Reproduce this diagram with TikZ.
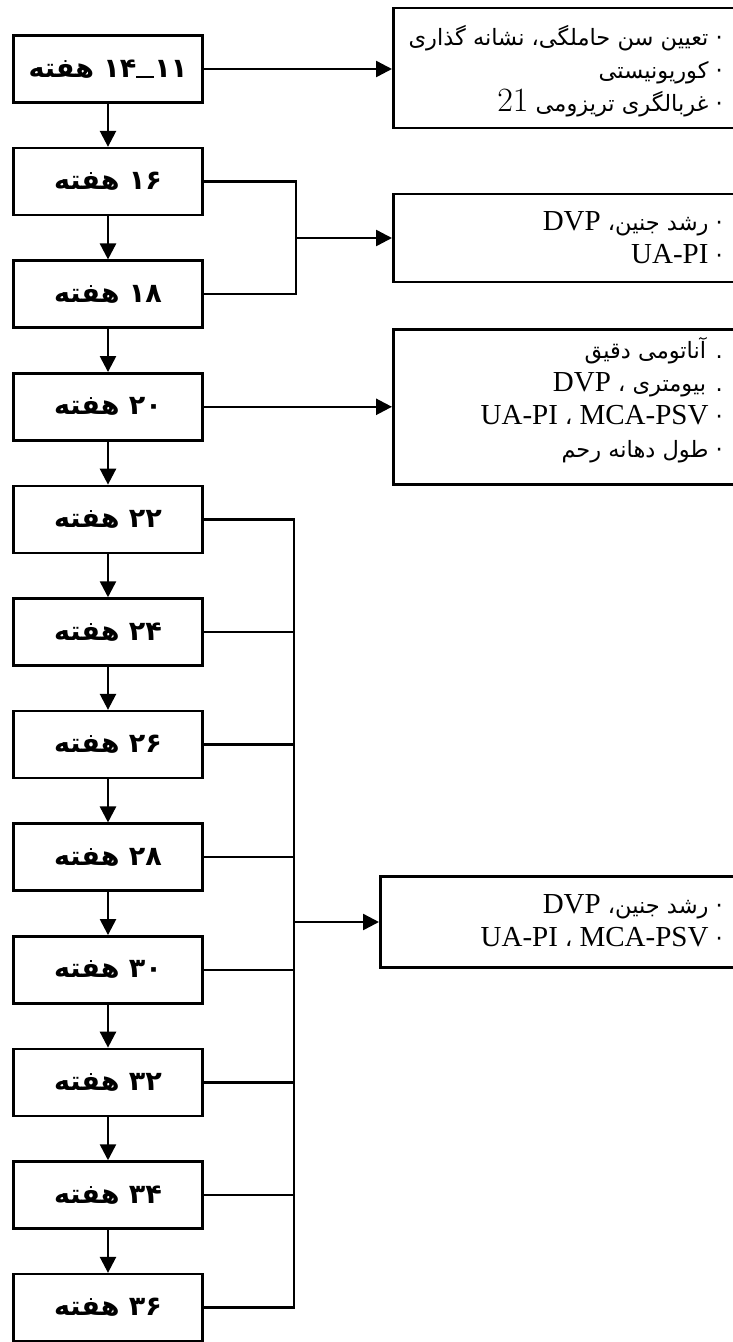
\documentclass[tikz,border=0pt]{standalone}
\usepackage{fontspec}
\usetikzlibrary{arrows.meta}
\newfontfamily\arabicfont[Script=Arabic]{DejaVu Sans}
\newfontfamily\tnr{Liberation Serif}
\TeXXeTstate=1
\tikzset{
  week/.style={draw, line width=2.5pt, minimum width=189pt, minimum height=67pt, inner sep=0pt,
    font=\arabicfont\bfseries\fontsize{27}{30}\selectfont},
  info/.style={draw, line width=2.5pt, inner sep=0pt, anchor=west, minimum width=360pt},
  txt/.style={align=right, anchor=east, inner sep=0pt, font=\arabicfont\fontsize{22.5}{33}\selectfont},
  link/.style={line width=2.5pt},
  arr/.style={line width=2.5pt, -{Triangle[length=16pt,width=16pt]}},
}
\newcommand{\lat}[1]{\beginL{\tnr\fontsize{29}{32}\selectfont #1}\endL{}}
\newcommand{\wdash}{\rule[-1pt]{18pt}{2.6pt}}
\begin{document}
\begin{tikzpicture}[x=1pt,y=-1pt]
\useasboundingbox (0,0) rectangle (733,1342);
\clip (0,0) rectangle (733,1342);
% left week boxes
\node[week] (w0)  at (108,69)    {\beginR\beginL ۱۱\endL\wdash\beginL ۱۴\endL{} هفته\endR};
\node[week] (w1)  at (108,181.6) {\beginR\beginL ۱۶\endL{} هفته\endR};
\node[week] (w2)  at (108,294.2) {\beginR\beginL ۱۸\endL{} هفته\endR};
\node[week] (w3)  at (108,406.8) {\beginR\beginL ۲۰\endL{} هفته\endR};
\node[week] (w4)  at (108,519.4) {\beginR\beginL ۲۲\endL{} هفته\endR};
\node[week] (w5)  at (108,632)   {\beginR\beginL ۲۴\endL{} هفته\endR};
\node[week] (w6)  at (108,744.6) {\beginR\beginL ۲۶\endL{} هفته\endR};
\node[week] (w7)  at (108,857.2) {\beginR\beginL ۲۸\endL{} هفته\endR};
\node[week] (w8)  at (108,969.8) {\beginR\beginL ۳۰\endL{} هفته\endR};
\node[week] (w9)  at (108,1082.4){\beginR\beginL ۳۲\endL{} هفته\endR};
\node[week] (w10) at (108,1195)  {\beginR\beginL ۳۴\endL{} هفته\endR};
\node[week] (w11) at (108,1307.6){\beginR\beginL ۳۶\endL{} هفته\endR};
% vertical arrows
\foreach \a/\b in {w0/w1,w1/w2,w2/w3,w3/w4,w4/w5,w5/w6,w6/w7,w7/w8,w8/w9,w9/w10,w10/w11}
  \draw[arr] (\a.south) -- (\b.north);
% info boxes
\node[info, minimum height=120pt] (r1) at (392,68) {};
\node[info, minimum height=88pt]  (r2) at (392,238) {};
\node[info, minimum height=155pt] (r3) at (392,407) {};
\node[info, minimum height=91pt, minimum width=380pt] (r4) at (379,922) {};
% info texts
\node[txt] (t1) at (723,71) {\beginR· تعیین سن حاملگی، نشانه گذاری\endR\\
  \beginR· کوریونیستی\endR\\
  \beginR· غربالگری تریزومی \beginL{\rmfamily\fontsize{34}{32}\selectfont 21}\endL\endR};
\node[txt] (t2) at (723,238) {\beginR· رشد جنین، \lat{DVP}\endR\\
  \beginR· \lat{UA-PI}\endR};
\node[txt] (t3) at (723,400) {\beginR. آناتومی دقیق\endR\\
  \beginR. بیومتری ، \lat{DVP}\endR\\
  \beginR· \lat{MCA-PSV} ، \lat{UA-PI}\endR\\
  \beginR· طول دهانه رحم\endR};
\node[txt] (t4) at (723,921) {\beginR· رشد جنین، \lat{DVP}\endR\\
  \beginR· \lat{MCA-PSV} ، \lat{UA-PI}\endR};
% connectors
\coordinate (j1) at (296,238);
\coordinate (j2) at (294,922);
\draw[arr] (w0.east) -- (r1.west |- w0.east);
\draw[link] (w1.east) -| (j1) |- (w2.east);
\draw[arr] (j1) -- (r2.west);
\draw[arr] (w3.east) -- (r3.west |- w3.east);
\draw[link] (w4.east) -| (j2) |- (w11.east);
\foreach \w in {w5,w6,w7,w8,w9,w10}
  \draw[link] (\w.east) -- (j2 |- \w.east);
\draw[arr] (j2) -- (r4.west);
\end{tikzpicture}
\end{document}
